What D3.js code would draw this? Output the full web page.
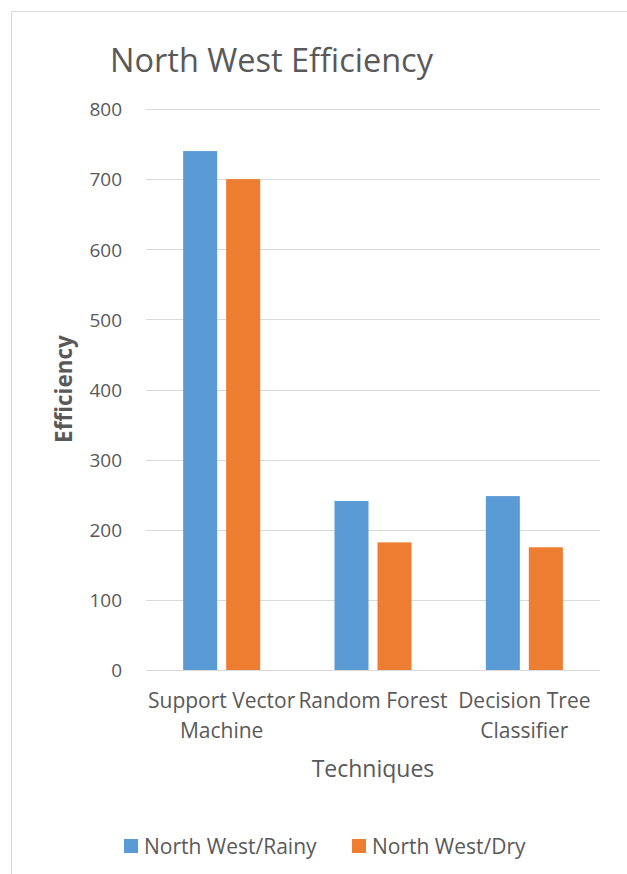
<!DOCTYPE html>
<html>
<head>
<meta charset="utf-8">
<script src="https://cdn.jsdelivr.net/npm/d3@7"></script>
<style>
  html, body { margin: 0; padding: 0; background: #fff; }
  svg text { font-family: "Open Sans", "Noto Sans", sans-serif; fill: #595959; }
</style>
</head>
<body>
<svg id="chart" width="627" height="874"></svg>
<script>
const categories = [["Support Vector", "Machine"], ["Random Forest"], ["Decision Tree", "Classifier"]];
const seriesNames = ["North West/Rainy", "North West/Dry"];
const rainy = [740, 241, 248];
const dry = [700, 182, 175];
const yTicks = [0, 100, 200, 300, 400, 500, 600, 700, 800];
const colors = ["#5B9BD5", "#ED7D31"];

const svg = d3.select("#chart");

// chart frame
svg.append("path")
  .attr("d", "M11.5,874 V11.5 H627")
  .attr("fill", "none").attr("stroke", "#D9D9D9").attr("stroke-width", 1);

const plot = { left: 146, right: 600, top: 109, bottom: 670 };

const y = d3.scaleLinear().domain([0, 800]).range([plot.bottom, plot.top]);
const x0 = d3.scaleBand().domain(d3.range(categories.length))
  .range([plot.left, plot.right]).paddingInner(0.491).paddingOuter(0.2455);
const x1 = d3.scaleBand().domain(d3.range(seriesNames.length))
  .range([0, x0.bandwidth()]).paddingInner(0.209);

// gridlines
svg.append("g").selectAll("line").data(yTicks).join("line")
  .attr("x1", plot.left).attr("x2", plot.right)
  .attr("y1", d => Math.round(y(d)) + 0.5).attr("y2", d => Math.round(y(d)) + 0.5)
  .attr("stroke", "#D9D9D9").attr("stroke-width", 1.2);

// y tick labels
const yAxis = d3.axisLeft(y).tickValues(yTicks).tickSize(0).tickPadding(0);
const gy = svg.append("g").attr("transform", `translate(122,0)`).call(yAxis);
gy.select(".domain").remove();
gy.selectAll("text").attr("font-size", 19).attr("dy", "0.36em")
  .style("font-family", "'Open Sans', sans-serif").attr("fill", "#595959");

// bars
const values = [rainy, dry];
const groups = svg.append("g").selectAll("g").data(categories.map((c, i) => i)).join("g")
  .attr("transform", i => `translate(${x0(i)},0)`);
groups.selectAll("rect").data(i => values.map((v, s) => ({ s, v: v[i] }))).join("rect")
  .attr("x", d => x1(d.s)).attr("width", x1.bandwidth())
  .attr("y", d => y(d.v)).attr("height", d => y(0) - y(d.v))
  .attr("fill", d => colors[d.s]);

// category labels
const cat = svg.append("g").selectAll("text").data(categories).join("text")
  .attr("x", (c, i) => x0(i) + x0.bandwidth() / 2)
  .attr("y", 708).attr("text-anchor", "middle").attr("font-size", 21);
cat.selectAll("tspan").data(c => c).join("tspan")
  .attr("x", function () { return this.parentNode.getAttribute("x"); })
  .attr("dy", (d, i) => i === 0 ? 0 : 30).text(d => d);

// axis titles
svg.append("text").attr("x", 373).attr("y", 777).attr("text-anchor", "middle")
  .attr("font-size", 23).text("Techniques");
svg.append("text").attr("transform", "translate(72,389) rotate(-90)")
  .attr("text-anchor", "middle").attr("font-size", 22.5).attr("font-weight", "bold")
  .text("Efficiency");

// title
svg.append("text").attr("x", 110).attr("y", 72).attr("font-size", 32.5)
  .text("North West Efficiency");

// legend
const legendX = [124, 352];
const lg = svg.append("g").selectAll("g").data(seriesNames).join("g")
  .attr("transform", (d, i) => `translate(${legendX[i]},839)`);
lg.append("rect").attr("width", 14).attr("height", 14).attr("fill", (d, i) => colors[i]);
lg.append("text").attr("x", 20).attr("y", 15).attr("font-size", 21).text(d => d);
</script>
</body>
</html>
